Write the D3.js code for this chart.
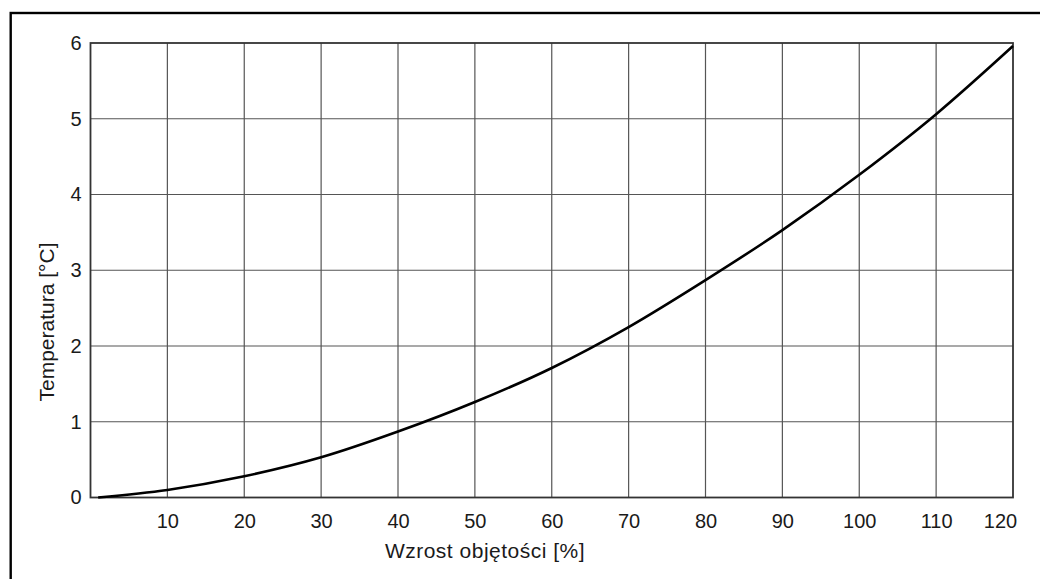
<!DOCTYPE html>
<html>
<head>
<meta charset="utf-8">
<script src="https://cdn.jsdelivr.net/npm/d3@7"></script>
<style>
  html, body { margin: 0; padding: 0; background: #fff; }
  svg { display: block; }
  text { font-family: "Liberation Sans", Arial, Helvetica, sans-serif; fill: #1a1a1a; }
</style>
</head>
<body>
<svg id="chart" width="1040" height="579"></svg>
<script>
// Data
const xValues = [1, 10, 20, 30, 40, 50, 60, 70, 80, 90, 100, 110, 120];
const yValues = [0, 0.1, 0.28, 0.53, 0.87, 1.26, 1.71, 2.25, 2.87, 3.53, 4.26, 5.06, 5.96];
const xTicks = [10, 20, 30, 40, 50, 60, 70, 80, 90, 100, 110, 120];
const yTicks = [0, 1, 2, 3, 4, 5, 6];
const xTitle = "Wzrost objętości [%]";
const yTitle = "Temperatura [°C]";

const svg = d3.select("#chart");
const FONT = '"Liberation Sans", Arial, Helvetica, sans-serif';

// outer frame (clipped by page)
svg.append("rect")
  .attr("x", 10.7).attr("y", 13)
  .attr("width", 1200).attr("height", 1000)
  .attr("fill", "none").attr("stroke", "#000").attr("stroke-width", 2.4);

const pL = 90.5, pR = 1013, pT = 43, pB = 497.5;
const x = d3.scaleLinear().domain([0, 120]).range([pL, pR]);
const y = d3.scaleLinear().domain([0, 6]).range([pB, pT]);

const g = svg.append("g");

// grid
g.append("g").selectAll("line").data(xTicks.filter(d => d < 120)).join("line")
  .attr("x1", d => x(d)).attr("x2", d => x(d))
  .attr("y1", pT).attr("y2", pB)
  .attr("stroke", "#555").attr("stroke-width", 1.2);
g.append("g").selectAll("line").data(yTicks.filter(d => d > 0 && d < 6)).join("line")
  .attr("x1", pL).attr("x2", pR)
  .attr("y1", d => y(d)).attr("y2", d => y(d))
  .attr("stroke", "#555").attr("stroke-width", 1.2);

// plot border
g.append("rect")
  .attr("x", pL).attr("y", pT)
  .attr("width", pR - pL).attr("height", pB - pT)
  .attr("fill", "none").attr("stroke", "#333").attr("stroke-width", 1.8);

// axes labels via d3 axes
const xAxis = d3.axisBottom(x).tickValues(xTicks).tickSize(0).tickPadding(16).tickFormat(d3.format("d"));
const yAxis = d3.axisLeft(y).tickValues(yTicks).tickSize(0).tickPadding(9).tickFormat(d3.format("d"));

const gx = g.append("g").attr("transform", `translate(0,${pB})`).call(xAxis);
gx.select(".domain").remove();
gx.selectAll("text")
  .style("font-size", "20px").style("font-family", FONT).attr("fill", "#1a1a1a")
  .attr("dx", d => d === 120 ? -13 : 0);

const gy = g.append("g").attr("transform", `translate(${pL},0)`).call(yAxis);
gy.select(".domain").remove();
gy.selectAll("text").style("font-size", "20px").style("font-family", FONT).attr("fill", "#1a1a1a");

// titles
svg.append("text")
  .attr("x", 485).attr("y", 558)
  .attr("text-anchor", "middle")
  .style("font-size", "21px")
  .style("letter-spacing", "0.5px")
  .text(xTitle);

svg.append("text")
  .attr("transform", "translate(54,322) rotate(-90)")
  .attr("text-anchor", "middle")
  .style("font-size", "21px")
  .text(yTitle);

// curve
const data = xValues.map((v, i) => ({ x: v, y: yValues[i] }));
const line = d3.line().x(d => x(d.x)).y(d => y(d.y)).curve(d3.curveMonotoneX);
g.append("path")
  .datum(data)
  .attr("d", line)
  .attr("fill", "none")
  .attr("stroke", "#000")
  .attr("stroke-width", 2.6);
</script>
</body>
</html>
